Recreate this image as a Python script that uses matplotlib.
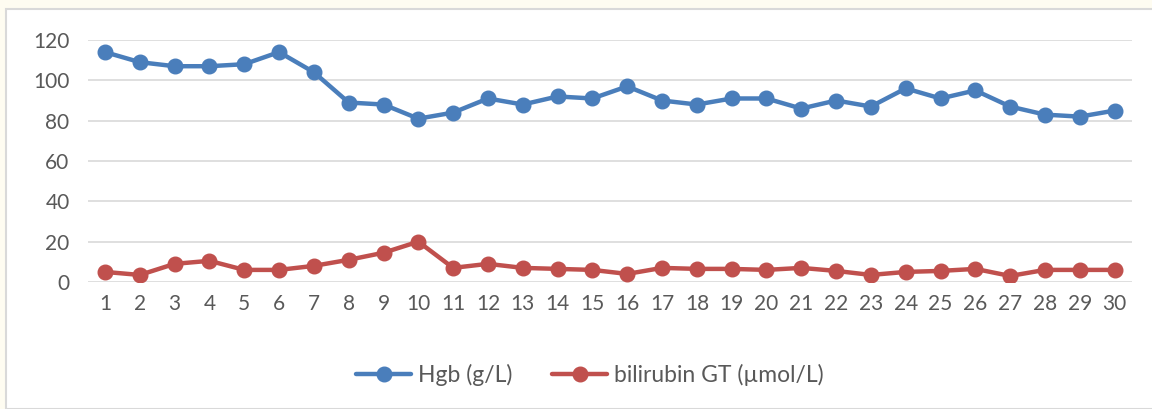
import matplotlib
matplotlib.use("Agg")
import matplotlib.pyplot as plt
from matplotlib.patches import Rectangle

days = list(range(1, 31))
hgb = [114, 109, 107, 107, 108, 114, 104, 89, 88, 81, 84, 91, 88, 92, 91,
       97, 90, 88, 91, 91, 86, 90, 87, 96, 91, 95, 87, 83, 82, 85]
bilirubin = [5, 3.5, 9, 10.5, 6, 6, 8, 11, 14.5, 20, 7, 9, 7, 6.5, 6,
             4, 7, 6.5, 6.5, 6, 7, 5.5, 3.5, 5, 5.5, 6.5, 3, 6, 6, 6]
yticks = [0, 20, 40, 60, 80, 100, 120]
labels = ["Hgb (g/L)", "bilirubin GT (\u00b5mol/L)"]

plt.rcParams['font.family'] = ['Lato', 'DejaVu Sans']
W, H = 1152, 409
fig = plt.figure(figsize=(W / 100, H / 100), dpi=100)
fig.patch.set_facecolor('#fefcf1')
fig.patches.append(Rectangle((6 / W, 0), 1 - 6 / W + 0.01, 1 - 9 / H,
                             transform=fig.transFigure, facecolor='white',
                             edgecolor='#d9d9d9', linewidth=1.5, zorder=-5))

ax = fig.add_axes([87.6 / W, 1 - 282 / H, (1132 - 87.6) / W, (282 - 40) / H])
ax.set_facecolor('none')
blue = '#4a7ebb'
red = '#c0504d'
ax.plot(days, hgb, color=blue, lw=3.2, marker='o', ms=10.5, label=labels[0],
        solid_capstyle='round', solid_joinstyle='round', zorder=3)
ax.plot(days, bilirubin, color=red, lw=3.2, marker='o', ms=10.5, label=labels[1],
        solid_capstyle='round', solid_joinstyle='round', zorder=3)

ax.set_xlim(0.5, 30.5)
ax.set_ylim(0, 120)
ax.set_yticks(yticks)
ax.set_xticks(days)
ax.grid(axis='y', color='#d9d9d9', lw=1.2)
ax.set_axisbelow(True)
for s in ax.spines.values():
    s.set_visible(False)
ax.tick_params(length=0, labelsize=15, colors='#595959', pad=9)
ax.tick_params(axis='y', pad=13)

leg = fig.legend(loc='center', bbox_to_anchor=(590 / W, 1 - 375 / H), ncol=2,
                 frameon=False, fontsize=16.5, handlelength=2.4, columnspacing=1.75,
                 handletextpad=0.3, labelcolor='#595959')
fig.savefig('out.png', dpi=100, facecolor=fig.get_facecolor())
